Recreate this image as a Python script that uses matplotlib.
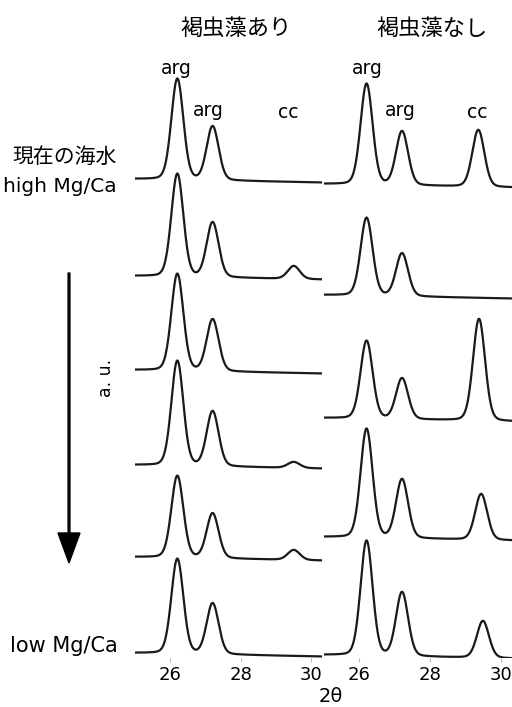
import numpy as np
import matplotlib.pyplot as plt

# 2θ grid for the simulated patterns
two_theta = np.linspace(25.0, 30.3, 800)

arg1_pos = 26.2
arg2_pos = 27.2
fwhm = 0.40

# 褐虫藻あり : 6 samples, high Mg/Ca (top) -> low Mg/Ca (bottom)
left_offset = [479, 382, 288, 193, 101, 5]
left_arg1 = [101, 103, 97, 105, 82, 95]
left_arg2 = [54, 55, 52, 55, 45, 51]
left_cc = [0, 13, 0, 6, 10, 0]
left_cc_pos = [29.5, 29.5, 29.5, 29.5, 29.5, 29.5]

# 褐虫藻なし : 5 samples
right_offset = [474, 363, 240, 121, 3]
right_arg1 = [101, 78, 78, 109, 115]
right_arg2 = [54, 43, 41, 59, 64]
right_cc = [57, 0, 102, 46, 37]
right_cc_pos = [29.35, 29.4, 29.37, 29.43, 29.48]

xticks = [26, 28, 30]


def peak(x, x0, h, w=fwhm, eta=0.15):
    g = np.exp(-4 * np.log(2) * (x - x0) ** 2 / w ** 2)
    l = 1 / (1 + 4 * (x - x0) ** 2 / w ** 2)
    return h * ((1 - eta) * g + eta * l)


def draw_panel(ax, offsets, a1, a2, cc, ccpos):
    for i in range(len(offsets)):
        y = (offsets[i]
             + peak(two_theta, arg1_pos, a1[i])
             + peak(two_theta, arg2_pos, a2[i])
             + peak(two_theta, ccpos[i], cc[i])
             - 3.5 * (two_theta - 25.0) / 5.3)
        ax.plot(two_theta, y, color='#1a1a1a', lw=1.6, solid_capstyle='round')
    ax.set_xlim(25.0, 30.3)
    ax.set_ylim(0, 598)
    ax.set_xticks(xticks)
    ax.set_yticks([])
    for s in ax.spines.values():
        s.set_visible(False)
    ax.tick_params(axis='x', length=3, color='#bbbbbb', labelsize=13, pad=3)
    ax.set_facecolor('none')


fig = plt.figure(figsize=(5.12, 7.07), dpi=100)

ax_l = fig.add_axes([135 / 512, 49 / 707, 187 / 512, 598 / 707])
ax_r = fig.add_axes([324 / 512, 49 / 707, 188 / 512, 598 / 707])
draw_panel(ax_l, left_offset, left_arg1, left_arg2, left_cc, left_cc_pos)
draw_panel(ax_r, right_offset, right_arg1, right_arg2, right_cc, right_cc_pos)

# overlay in pixel coordinates for the annotations
ov = fig.add_axes([0, 0, 1, 1])
ov.set_xlim(0, 512)
ov.set_ylim(707, 0)
ov.axis('off')

jp = ['Noto Sans CJK JP', 'DejaVu Sans']
ov.text(236, 28, '褐虫藻あり', family=jp, fontsize=16, ha='center', va='center')
ov.text(432, 28, '褐虫藻なし', family=jp, fontsize=16, ha='center', va='center')

ov.text(176, 68, 'arg', fontsize=13.5, ha='center', va='center')
ov.text(208, 110, 'arg', fontsize=13.5, ha='center', va='center')
ov.text(288, 112, 'cc', fontsize=13.5, ha='center', va='center')
ov.text(367, 68, 'arg', fontsize=13.5, ha='center', va='center')
ov.text(400, 110, 'arg', fontsize=13.5, ha='center', va='center')
ov.text(477, 112, 'cc', fontsize=13.5, ha='center', va='center')

ov.text(12, 157, '現在の海水', family=jp, fontsize=15, ha='left', va='center')
ov.text(3, 187, 'high Mg/Ca', fontsize=14.5, ha='left', va='center')
ov.text(10, 646, 'low Mg/Ca', fontsize=15, ha='left', va='center')
ov.text(106, 378, 'a. u.', fontsize=12.5, rotation=90, ha='center', va='center')
ov.text(331, 697, '2θ', fontsize=14, ha='center', va='center')

ov.arrow(69, 273, 0, 290, width=1.8, head_width=22, head_length=30,
         length_includes_head=True, color='black')

fig.savefig('out.png', dpi=100)
